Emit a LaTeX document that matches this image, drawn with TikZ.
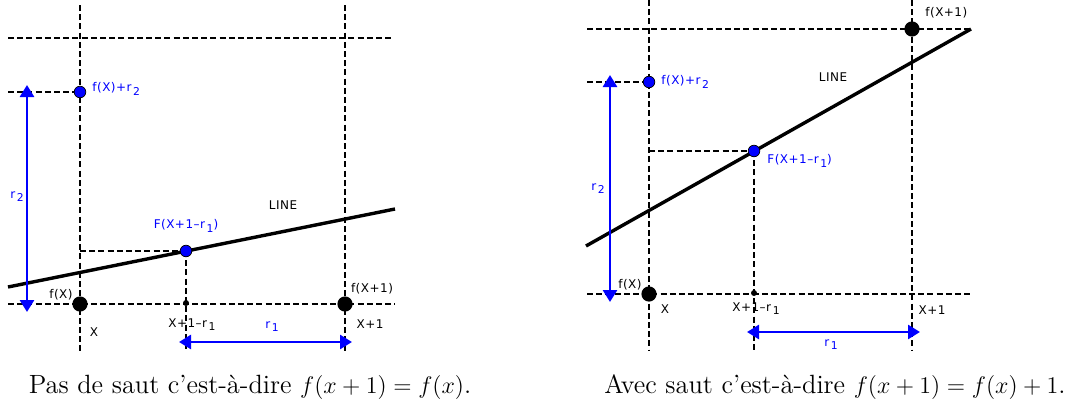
\documentclass[tikz,border=0pt]{standalone}
\usepackage{fontspec}
\usepackage{amsmath}
\usetikzlibrary{arrows.meta}
\newfontfamily\lblfont[LetterSpace=4]{DejaVu Sans}
\newcommand\lblsub[1]{\kern0.8pt\raisebox{-1.6pt}{\fontsize{5.4}{6}\selectfont#1}}

\begin{document}
\begin{tikzpicture}[x=0.5pt,y=-0.5pt,
    gridline/.style={line width=0.8pt,dash pattern=on 3pt off 1.6pt},
    fline/.style={line width=1.7pt},
    bigdot/.style={circle,fill=black,inner sep=0pt,minimum size=7.6pt},
    smalldot/.style={circle,fill=black,inner sep=0pt,minimum size=3pt},
    bluedot/.style={circle,fill=blue,draw=black,line width=0.35pt,inner sep=0pt,minimum size=5.8pt},
    dist/.style={blue,line width=1.35pt,{Triangle[length=6pt,width=7pt]}-{Triangle[length=6pt,width=7pt]}},
    lbl/.style={font=\lblfont\fontsize{6}{7}\selectfont,inner sep=0pt},
    capt/.style={font=\fontsize{13.2}{15}\selectfont,inner sep=0pt}]
  \useasboundingbox (0,0) rectangle (1088,407);

  % left panel
  \coordinate (Ltl) at (8,38);   \coordinate (Ltr) at (393,38);
  \coordinate (Lbl) at (8,304);  \coordinate (Lbr) at (395,304);
  \coordinate (Lxt) at (80,5);   \coordinate (Lxb) at (80,352);
  \coordinate (Lot) at (345,5);  \coordinate (Lob) at (345,352);
  \coordinate (Lml) at (8,92);
  \coordinate (La) at (8,287);   \coordinate (Lb) at (395,209);
  \coordinate (Lpfx) at (80,304);
  \coordinate (Lpfo) at (345,304);
  \coordinate (Lpm) at (186,303);
  \coordinate (Lpfr) at (80,92);
  \coordinate (Lpf) at (186,251);
  \coordinate (Lr2t) at (27,85);  \coordinate (Lr2b) at (27,312);
  \coordinate (Lr1l) at (179,342); \coordinate (Lr1r) at (352,342);

  \draw[gridline] (Ltl) -- (Ltr);
  \draw[gridline] (Lbl) -- (Lbr);
  \draw[gridline] (Lxt) -- (Lxb);
  \draw[gridline] (Lot) -- (Lob);
  \draw[gridline] (Lml) -- (Lpfr);
  \draw[gridline] (Lpfx |- Lpf) -- (Lpf);
  \draw[gridline] (Lpf) -- (Lpf |- Lxb);
  \draw[fline] (La) -- (Lb);

  \node[bigdot] (Lfx) at (Lpfx) {};
  \node[bigdot] (Lfo) at (Lpfo) {};
  \node[smalldot] (Lm) at (Lpm) {};
  \node[bluedot] (Lfr) at (Lpfr) {};
  \node[bluedot] (Lf) at (Lpf) {};
  \draw[dist] (Lr2t) -- (Lr2b);
  \draw[dist] (Lr1l) -- (Lr1r);

  \node[lbl,blue,anchor=west] at (92,89) {f(X)+r\lblsub{2}};
  \node[lbl,blue] at (186,226) {F(X+1–r\lblsub{1})};
  \node[lbl] at (283,205) {LINE};
  \node[lbl] at (61,295) {f(X)};
  \node[lbl] at (94,332) {X};
  \node[lbl] at (192,325) {X+1–r\lblsub{1}};
  \node[lbl] at (372,289) {f(X+1)};
  \node[lbl] at (370,324) {X+1};
  \node[lbl,blue] at (17,197) {r\lblsub{2}};
  \node[lbl,blue] at (272,327) {r\lblsub{1}};
  \node[capt] at (250,387) {Pas de saut c'est-à-dire $f(x+1)=f(x)$.};

  % right panel
  \coordinate (Rtl) at (587,29);  \coordinate (Rtr) at (970,29);
  \coordinate (Rbl) at (587,294); \coordinate (Rbr) at (970,294);
  \coordinate (Rxt) at (649,0);   \coordinate (Rxb) at (649,350);
  \coordinate (Rot) at (912,0);   \coordinate (Rob) at (912,350);
  \coordinate (Rml) at (587,82);
  \coordinate (Ra) at (586,246);  \coordinate (Rb) at (971,29);
  \coordinate (Rpfx) at (649,294);
  \coordinate (Rpfo) at (912,29);
  \coordinate (Rpm) at (754,293);
  \coordinate (Rpfr) at (649,82);
  \coordinate (Rpf) at (754,151);
  \coordinate (Rr2t) at (610,75);  \coordinate (Rr2b) at (610,302);
  \coordinate (Rr1l) at (747,332); \coordinate (Rr1r) at (920,332);

  \draw[gridline] (Rtl) -- (Rtr);
  \draw[gridline] (Rbl) -- (Rbr);
  \draw[gridline] (Rxt) -- (Rxb);
  \draw[gridline] (Rot) -- (Rob);
  \draw[gridline] (Rml) -- (Rpfr);
  \draw[gridline] (Rpfx |- Rpf) -- (Rpf);
  \draw[gridline] (Rpf) -- (Rpf |- Rxb);
  \draw[fline] (Ra) -- (Rb);

  \node[bigdot] (Rfx) at (Rpfx) {};
  \node[bigdot] (Rfo) at (Rpfo) {};
  \node[smalldot] (Rm) at (Rpm) {};
  \node[bluedot] (Rfr) at (Rpfr) {};
  \node[bluedot] (Rf) at (Rpf) {};
  \draw[dist] (Rr2t) -- (Rr2b);
  \draw[dist] (Rr1l) -- (Rr1r);

  \node[lbl,anchor=west] at (925,13) {f(X+1)};
  \node[lbl,blue,anchor=west] at (661,82) {f(X)+r\lblsub{2}};
  \node[lbl] at (833,77) {LINE};
  \node[lbl,blue,anchor=west] at (767,161) {F(X+1–r\lblsub{1})};
  \node[lbl] at (630,285) {f(X)};
  \node[lbl] at (665,309) {X};
  \node[lbl] at (756,309) {X+1–r\lblsub{1}};
  \node[lbl] at (932,310) {X+1};
  \node[lbl,blue] at (598,189) {r\lblsub{2}};
  \node[lbl,blue] at (831,345) {r\lblsub{1}};
  \node[capt] at (835,387) {Avec saut c'est-à-dire $f(x+1)=f(x)+1$.};
\end{tikzpicture}
\end{document}
